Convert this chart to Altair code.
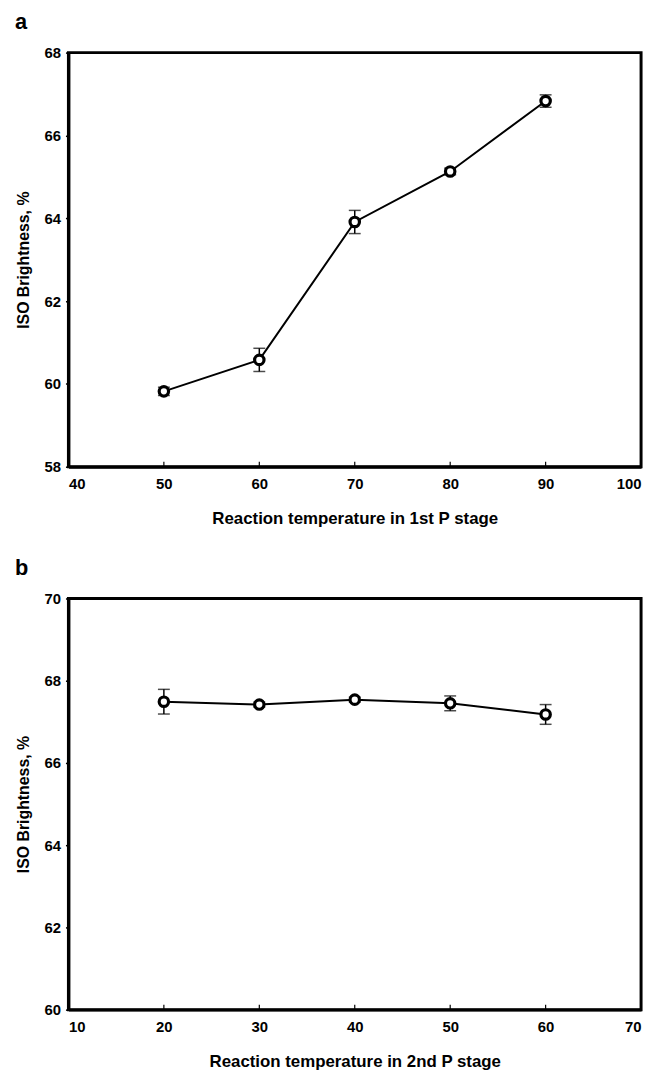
import altair as alt
import pandas as pd

# ---- data ----
temp_a = [50, 60, 70, 80, 90]
bright_a = [59.82, 60.58, 63.91, 65.13, 66.83]
err_a = [0.10, 0.28, 0.28, 0.08, 0.15]

temp_b = [20, 30, 40, 50, 60]
bright_b = [67.49, 67.42, 67.54, 67.45, 67.18]
err_b = [0.30, 0.06, 0.06, 0.18, 0.24]

xticks_a = [40, 50, 60, 70, 80, 90, 100]
yticks_a = [58, 60, 62, 64, 66, 68]
xticks_b = [10, 20, 30, 40, 50, 60, 70]
yticks_b = [60, 62, 64, 66, 68, 70]

xtitle_a = "Reaction temperature in 1st P stage"
xtitle_b = "Reaction temperature in 2nd P stage"
ytitle = "ISO Brightness, %"

FONT = "Liberation Sans, Arial, sans-serif"
W = 578


def panel(label, temps, vals, errs, xticks, yticks, xtitle, H):
    df = pd.DataFrame({"t": temps, "v": vals, "e": errs})
    df["lo"] = df["v"] - df["e"]
    df["hi"] = df["v"] + df["e"]
    inner = pd.DataFrame({"t": xticks[1:-1]})
    lab = pd.DataFrame({"lab": [label]})

    xs = alt.Scale(domain=[xticks[0], xticks[-1]], nice=False, zero=False)
    ys = alt.Scale(domain=[yticks[0], yticks[-1]], nice=False, zero=False)

    xax = alt.Axis(values=xticks, ticks=False, tickSize=0, grid=False, format="d",
                   labelFont=FONT, labelFontSize=15, labelFontWeight="bold", labelColor="black",
                   labelPadding=10, title=xtitle, titleFont=FONT, titleFontSize=17,
                   titleFontWeight="bold", titleColor="black", titlePadding=19,
                   domainColor="black", domainWidth=3)
    yax = alt.Axis(values=yticks, tickSize=3, tickWidth=1.5, tickColor="black", grid=False,
                   format="d", labelFont=FONT, labelFontSize=15, labelFontWeight="bold",
                   labelColor="black", labelPadding=5, title=ytitle, titleFont=FONT,
                   titleFontSize=16, titleFontWeight="bold", titleColor="black",
                   titlePadding=13, domainColor="black", domainWidth=3)

    base = alt.Chart(df)
    line = base.mark_line(color="black", strokeWidth=2).encode(
        x=alt.X("t:Q", scale=xs, axis=xax), y=alt.Y("v:Q", scale=ys, axis=yax))
    bars = base.mark_rule(color="black", strokeWidth=1.5).encode(
        x="t:Q", y="lo:Q", y2="hi:Q")
    caps_lo = base.mark_tick(color="black", orient="horizontal", size=12, thickness=1.5).encode(
        x="t:Q", y="lo:Q")
    caps_hi = base.mark_tick(color="black", orient="horizontal", size=12, thickness=1.5).encode(
        x="t:Q", y="hi:Q")
    pts = base.mark_point(shape="circle", filled=True, fill="white", stroke="black",
                          strokeWidth=3.2, size=90, opacity=1).encode(x="t:Q", y="v:Q")
    ticks = alt.Chart(inner).mark_rule(color="black", strokeWidth=1.2).encode(
        x="t:Q", y=alt.value(H), y2=alt.value(H - 5))
    letter = alt.Chart(lab).mark_text(font=FONT, fontSize=22, fontWeight="bold", color="black",
                                      align="left", baseline="top").encode(
        text="lab:N", x=alt.value(-54), y=alt.value(-41))

    return alt.layer(line, bars, caps_lo, caps_hi, ticks, pts, letter).properties(
        width=W, height=H)


chart = alt.vconcat(
    panel("a", temp_a, bright_a, err_a, xticks_a, yticks_a, xtitle_a, 418),
    panel("b", temp_b, bright_b, err_b, xticks_b, yticks_b, xtitle_b, 415),
    spacing=27,
).properties(
    padding={"left": 5, "top": -4, "right": 5, "bottom": 5},
    background="white",
).configure_view(stroke="black", strokeWidth=3)

chart.save("out.html", embed_options={"renderer": "svg", "actions": False})
